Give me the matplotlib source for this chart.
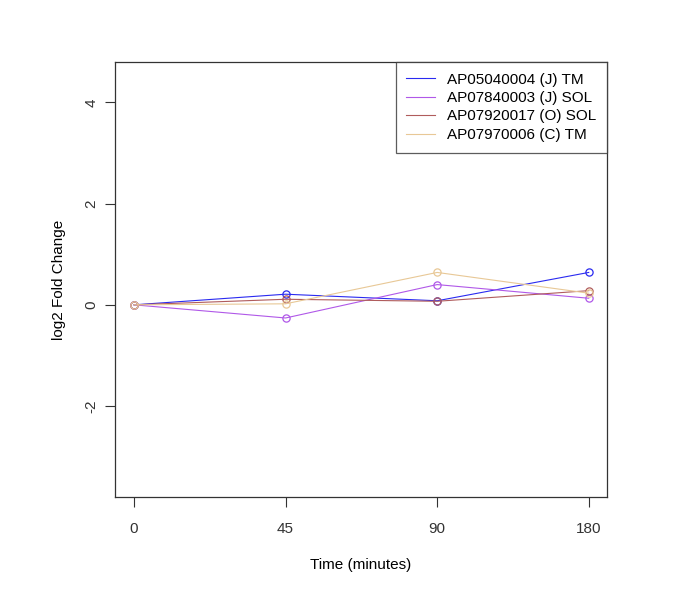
import matplotlib
matplotlib.use('Agg')
import matplotlib.pyplot as plt

plt.rcParams['font.family'] = ['Liberation Sans', 'DejaVu Sans']

# Data
time_labels = ['0', '45', '90', '180']
series_names = ['AP05040004 (J) TM', 'AP07840003 (J) SOL',
                'AP07920017 (O) SOL', 'AP07970006 (C) TM']
blue_vals = [0.0, 0.21, 0.08, 0.64]
purple_vals = [0.0, -0.26, 0.40, 0.13]
brown_vals = [0.0, 0.11, 0.07, 0.28]
tan_vals = [0.0, 0.02, 0.64, 0.23]

colors = ['#2a2af0', '#b058e8', '#b05c5c', '#e8c896']

fig = plt.figure(figsize=(6.85, 6.07), dpi=100)
ax = fig.add_axes([0.168, 0.181, 0.718, 0.717])

x = list(range(1, len(time_labels) + 1))
for vals, name, col in zip([blue_vals, purple_vals, brown_vals, tan_vals],
                           series_names, colors):
    ax.plot(x, vals, color=col, lw=0.8, marker='o', ms=5.2, mfc='none',
            mec=col, mew=0.9, label=name)

ax.set_xlim(0.875, 4.12)
ax.set_ylim(-3.8, 4.8)
ax.set_xticks(x)
ax.set_xticklabels(time_labels)
ax.set_yticks([-2, 0, 2, 4])
ax.set_yticklabels(['-2', '0', '2', '4'], rotation=90, va='center')

ax.tick_params(direction='out', length=7, width=0.8, colors='#333333',
               labelsize=11)
ax.tick_params(axis='x', pad=11)
ax.tick_params(axis='y', pad=5)
for s in ax.spines.values():
    s.set_color('#333333')
    s.set_linewidth(0.9)

ax.set_xlabel('Time (minutes)', fontsize=11, labelpad=16)
ax.set_ylabel('log2 Fold Change', fontsize=11, labelpad=13)

leg = ax.legend(loc='upper right', fontsize=11, frameon=True, fancybox=False,
                borderaxespad=0, handlelength=1.85, borderpad=0.7,
                labelspacing=0.29, handletextpad=0.8)
leg.get_frame().set_edgecolor('#333333')
leg.get_frame().set_linewidth(0.9)
for h in leg.get_lines():
    h.set_marker('')

fig.savefig('out.png', dpi=100)
